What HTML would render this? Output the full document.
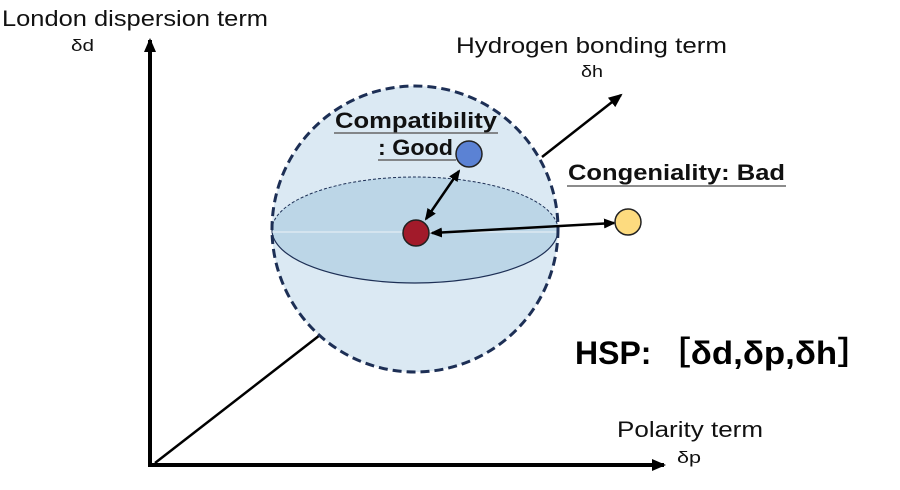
<!DOCTYPE html>
<html><head><style>
body{margin:0;background:#fff;}
svg{display:block;font-family:"Liberation Sans","Noto Sans CJK JP",sans-serif;}
</style></head><body>
<svg width="900" height="490" viewBox="0 0 900 490">
<defs>
<marker id="ah" markerWidth="14" markerHeight="14" refX="12" refY="7" orient="auto" markerUnits="userSpaceOnUse"><path d="M0,1 L14,7 L0,13 z" fill="#000"/></marker>
<marker id="as" markerWidth="12" markerHeight="12" refX="10" refY="6" orient="auto-start-reverse" markerUnits="userSpaceOnUse"><path d="M0,1 L12,6 L0,11 z" fill="#000"/></marker>
</defs>
<line x1="150" y1="467" x2="150" y2="40" stroke="#000" stroke-width="4" marker-end="url(#ah)"/>
<line x1="148" y1="465" x2="664" y2="465" stroke="#000" stroke-width="4" marker-end="url(#ah)"/>
<line x1="155" y1="463" x2="320" y2="335" stroke="#000" stroke-width="2.5"/>
<line x1="542" y1="157" x2="621" y2="95" stroke="#000" stroke-width="2.5" marker-end="url(#ah)"/>
<circle cx="415" cy="229" r="143" fill="#dbe9f3"/>
<path d="M272,230 A143,53 0 0 1 558,230 A143,53 0 0 1 272,230 z" fill="#bcd6e7"/>
<path d="M272,230 A143,53 0 0 1 558,230" fill="none" stroke="#1d2f55" stroke-width="1" stroke-dasharray="3,2"/>
<path d="M272,230 A143,53 0 0 0 558,230" fill="none" stroke="#1d2f55" stroke-width="1.2"/>
<line x1="272" y1="232" x2="558" y2="232" stroke="#fff" stroke-width="1" opacity="0.7"/>
<circle cx="415" cy="229" r="143" fill="none" stroke="#1d2f55" stroke-width="3" stroke-dasharray="9,5"/>
<line x1="426" y1="219" x2="459" y2="171" stroke="#000" stroke-width="2.5" marker-start="url(#as)" marker-end="url(#as)"/>
<line x1="432" y1="233" x2="614" y2="223" stroke="#000" stroke-width="2.5" marker-start="url(#as)" marker-end="url(#as)"/>
<circle cx="416" cy="233" r="13" fill="#a21a2a" stroke="#222" stroke-width="1.5"/>
<circle cx="469" cy="154" r="13" fill="#5b82d4" stroke="#222" stroke-width="1.5"/>
<circle cx="628" cy="222" r="13" fill="#fddb7f" stroke="#222" stroke-width="1.5"/>
<text x="2" y="26" font-size="22" fill="#111" textLength="266" lengthAdjust="spacingAndGlyphs">London dispersion term</text>
<text x="71" y="51" font-size="17" fill="#111" textLength="23" lengthAdjust="spacingAndGlyphs">δd</text>
<text x="456" y="53" font-size="22" fill="#111" textLength="271" lengthAdjust="spacingAndGlyphs">Hydrogen bonding term</text>
<text x="581" y="77" font-size="17" fill="#111" textLength="22" lengthAdjust="spacingAndGlyphs">δh</text>
<text x="617" y="437" font-size="22" fill="#111" textLength="146" lengthAdjust="spacingAndGlyphs">Polarity term</text>
<text x="677" y="463" font-size="17" fill="#111" textLength="24" lengthAdjust="spacingAndGlyphs">δp</text>
<text x="335" y="128" font-size="22" font-weight="bold" fill="#111" textLength="162" lengthAdjust="spacingAndGlyphs">Compatibility</text>
<line x1="334" y1="133" x2="498" y2="133" stroke="#666" stroke-width="1.5"/>
<text x="378" y="155" font-size="22" font-weight="bold" fill="#111" textLength="75" lengthAdjust="spacingAndGlyphs">: Good</text>
<line x1="378" y1="160" x2="456" y2="160" stroke="#666" stroke-width="1.5"/>
<text x="568" y="180" font-size="22" font-weight="bold" fill="#111" textLength="217" lengthAdjust="spacingAndGlyphs">Congeniality: Bad</text>
<line x1="567" y1="186" x2="786" y2="186" stroke="#666" stroke-width="1.5"/>
<text x="575" y="364" font-size="32" font-weight="bold" fill="#000" style="font-family:'Liberation Sans',sans-serif">HSP:</text>
<text x="656" y="364" font-size="32" font-weight="bold" fill="#000" textLength="216" lengthAdjust="spacingAndGlyphs">［δd,δp,δh］</text>
</svg>
</body></html>
